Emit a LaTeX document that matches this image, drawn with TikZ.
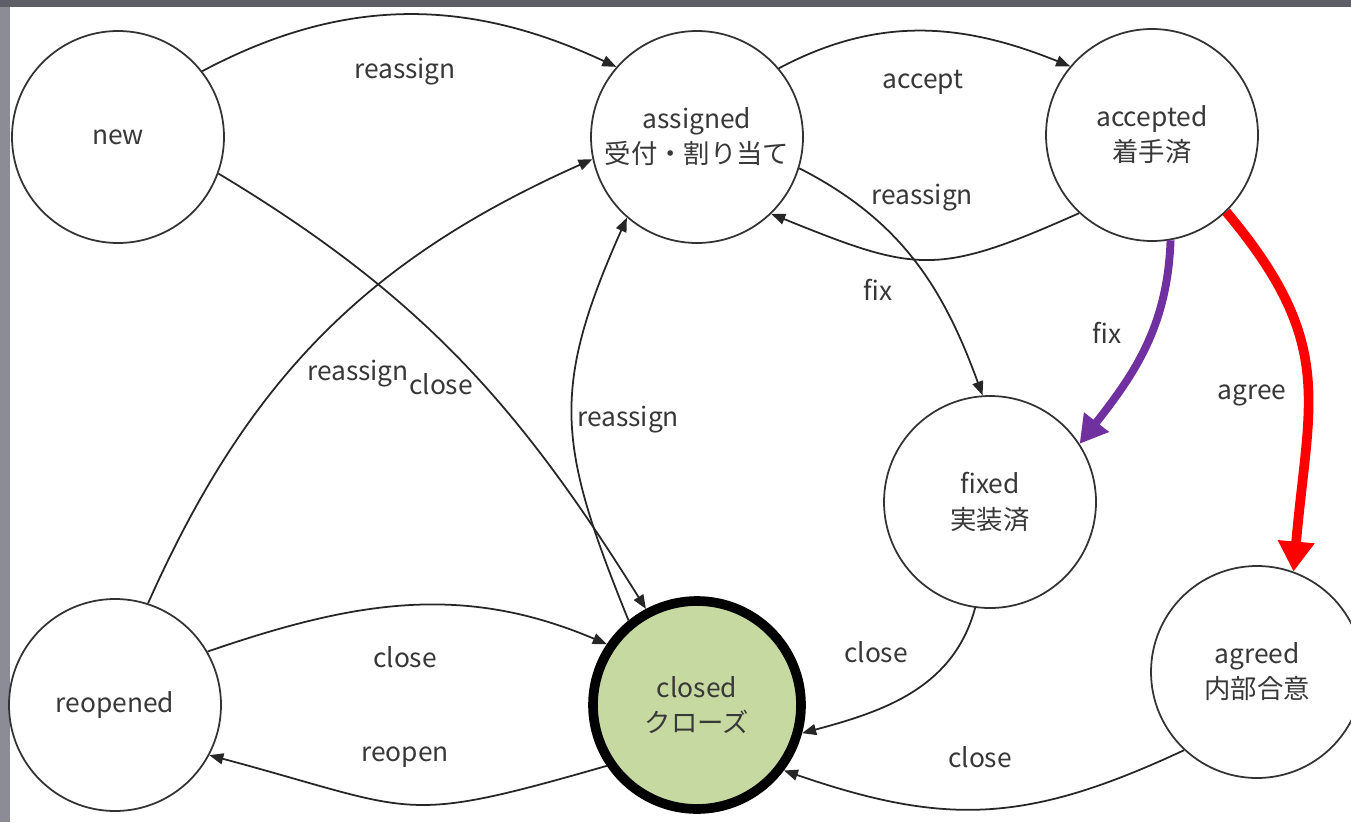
\documentclass[tikz,border=0pt]{standalone}
\usepackage{fontspec}
\setmainfont{Noto Sans CJK JP}
\usepackage{xcolor}
\usepackage{tikz}
\usetikzlibrary{arrows.meta}
\definecolor{txt}{HTML}{383838}
\definecolor{closedfill}{HTML}{C6D9A1}
\definecolor{fixpurple}{HTML}{7030A0}
\definecolor{agreered}{HTML}{FF0000}
\definecolor{frameside}{HTML}{8C8C96}
\definecolor{frametop}{HTML}{5E5E66}

\begin{document}
\begin{tikzpicture}[
  state/.style={circle, draw=black!80, line width=1pt, minimum size=4.24cm, inner sep=0pt,
    align=center, text=txt, font=\fontsize{15}{20}\selectfont},
  finalstate/.style={state, fill=closedfill, draw=black, line width=5.5pt, minimum size=4.16cm},
  trans/.style={-{Triangle[length=2.8mm,width=2.2mm]}, line width=1pt, draw=black!85},
  lbl/.style={text=txt, font=\fontsize{15}{18}\selectfont, inner sep=1pt}]
% frame
\useasboundingbox (0,0) rectangle (27.02,16.44);
\fill[white] (0,0) rectangle (27.02,16.44);
\fill[frameside] (0,0) rectangle (0.2,16.44);
\fill[frametop] (0,16.30) rectangle (27.02,16.44);
% states
\node[state] (new) at (2.36,13.70) {new};
\node[state] (assigned) at (13.94,13.70) {assigned\\受付・割り当て};
\node[state] (accepted) at (23.04,13.74) {accepted\\着手済};
\node[state] (fixed) at (19.80,6.40) {fixed\\実装済};
\node[state] (reopened) at (2.30,2.34) {reopened};
\node[finalstate] (closed) at (13.94,2.34) {closed\\クローズ};
\node[state] (agreed) at (25.14,3.00) {agreed\\内部合意};
% transitions
\draw[trans] (new.38) to[out=28,in=155] (assigned.139);
\draw[trans] (new.-20) to[out=-31,in=122] (closed.118);
\draw[trans] (reopened.72) to[out=66,in=204] (assigned.192);
\draw[trans] (closed.129) to[out=112,in=246,looseness=1.2] (assigned.229);
\draw[trans] (assigned.40) to[out=28,in=158] (accepted.140);
\draw[trans] (accepted.227) to[out=204,in=-22,looseness=1.3] (assigned.-46);
\draw[trans] (assigned.-17) to[out=-27,in=110] (fixed.94);
\draw[-{Triangle[length=5.5mm,width=6mm]}, line width=4.5pt, fixpurple]
  (accepted.-80) to[out=-92,in=52] (fixed.33);
\draw[-{Triangle[length=6mm,width=7mm]}, line width=5.5pt, agreered]
  (accepted.-46) to[out=-50,in=85,looseness=1.2] (agreed.70);
\draw[trans] (reopened.30) to[out=19,in=157] (closed.146);
\draw[trans] (closed.214) to[out=196,in=-15,looseness=1.4] (reopened.-28);
\draw[trans] (fixed.-98) to[out=-105,in=15] (closed.-15);
\draw[trans] (agreed.227) to[out=205,in=-19,looseness=1.1] (closed.-37);
% labels
\node[lbl] (lbNewReassign) at (8.10,15.00) {reassign};
\node[lbl] (lbNewClose) at (8.82,8.76) {close};
\node[lbl] (lbReopReassign) at (7.16,8.96) {reassign};
\node[lbl] (lbClosedReassign) at (12.56,8.04) {reassign};
\node[lbl] (lbAccept) at (18.46,14.80) {accept};
\node[lbl] (lbAccReassign) at (18.44,12.48) {reassign};
\node[lbl] (lbFix) at (17.56,10.64) {fix};
\node[lbl] (lbFixPurple) at (22.14,9.78) {fix};
\node[lbl] (lbAgree) at (25.04,8.54) {agree};
\node[lbl] (lbReopClose) at (8.10,3.30) {close};
\node[lbl] (lbReopen) at (8.10,1.30) {reopen};
\node[lbl] (lbFixedClose) at (17.52,3.40) {close};
\node[lbl] (lbAgreedClose) at (19.60,1.30) {close};
\end{tikzpicture}
\end{document}
